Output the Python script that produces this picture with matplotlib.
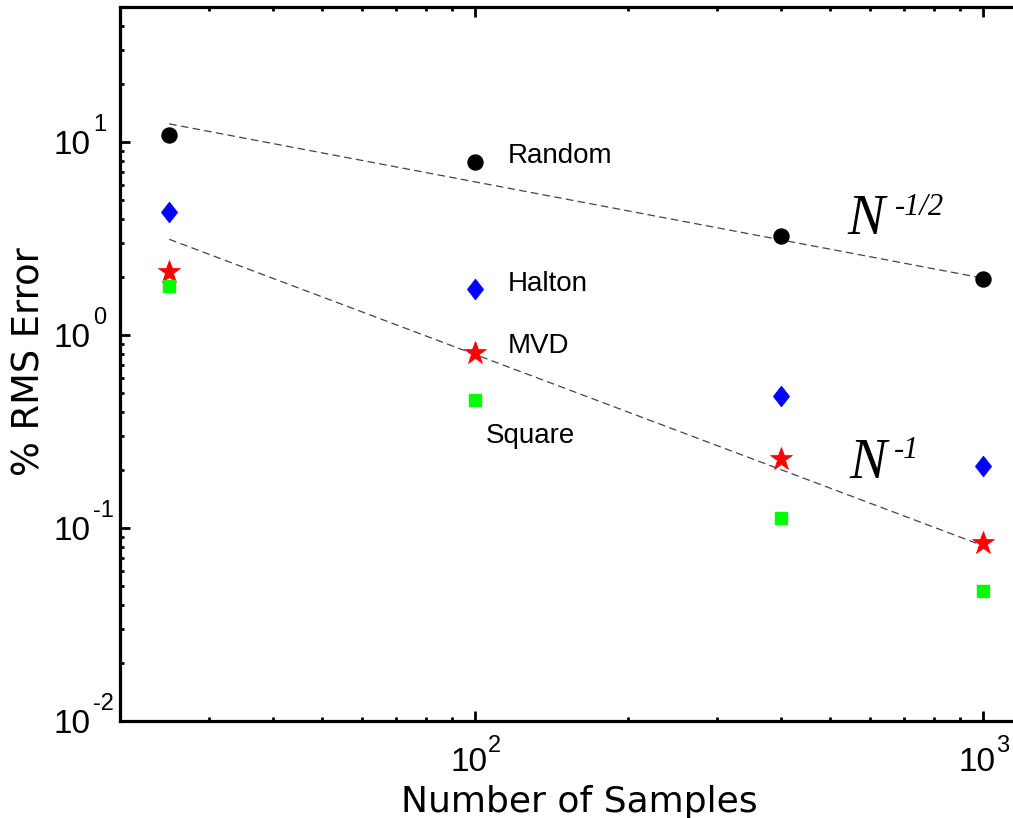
import numpy as np
import matplotlib
matplotlib.use("Agg")
import matplotlib.pyplot as plt
from matplotlib.path import Path
from matplotlib.ticker import LogLocator, NullFormatter
from matplotlib.transforms import blended_transform_factory

plt.rcParams['font.family'] = ['Liberation Sans', 'DejaVu Sans']

# ---- data ----
samples = [25, 100, 400, 1000]
random_err = [10.9, 7.9, 3.24, 1.94]
halton_err = [4.35, 1.73, 0.485, 0.21]
mvd_err = [2.11, 0.807, 0.2285, 0.0837]
square_err = [1.79, 0.462, 0.1128, 0.0472]

fit_n = [25, 1000]
fit_half = [12.4, 1.97]
fit_inv = [3.13, 0.081]

series_labels = ["Random", "Halton", "MVD", "Square"]
label_x = [116, 116, 116, 105]
label_y = [7.79, 1.69, 0.807, 0.275]

x_major = [100, 1000]
y_major = [0.01, 0.1, 1, 10]

# ---- figure ----
W, H = 1013, 818
fig = plt.figure(figsize=(W / 100, H / 100), dpi=100)
ax = fig.add_axes([120 / W, (H - 721) / H, (1023 - 120) / W, (721 - 7) / H])
ax.set_xscale('log')
ax.set_yscale('log')
ax.set_xlim(20, 1200)
ax.set_ylim(0.01, 50)

diamond = Path([(0, 1), (0.78, 0), (0, -1), (-0.78, 0), (0, 1)],
               [Path.MOVETO, Path.LINETO, Path.LINETO, Path.LINETO, Path.CLOSEPOLY])

ax.plot(fit_n, fit_half, ls=(0, (6, 3.5)), color='#444444', lw=0.9, zorder=1)
ax.plot(fit_n, fit_inv, ls=(0, (6, 3.5)), color='#444444', lw=0.9, zorder=1)

ax.plot(samples, random_err, ls='none', marker='o', ms=10.8, color='black',
        mec='black', zorder=3)
ax.plot(samples, halton_err, ls='none', marker=diamond, ms=15, color='#0000ff',
        mec='#0000ff', mew=0.5, zorder=3)
ax.plot(samples, mvd_err, ls='none', marker='*', ms=17, color='#ff0000',
        mec='#ff0000', mew=0.5, zorder=3)
ax.plot(samples, square_err, ls='none', marker='s', ms=9, color='#00ff00',
        mec='#00ff00', zorder=3)

for lab, lx, ly in zip(series_labels, label_x, label_y):
    ax.text(lx, ly, lab, fontsize=20, ha='left', va='baseline', color='black')

# power-law annotations
serif = ['Liberation Serif', 'DejaVu Serif']
ax.text(542, 3.32, 'N', fontsize=40, family=serif, style='italic',
        ha='left', va='baseline')
ax.annotate('-1/2', xy=(542, 3.32), xycoords='data', xytext=(47, 19),
            textcoords='offset pixels', fontsize=22, family=serif,
            style='italic', ha='left', va='baseline')
ax.text(547, 0.182, 'N', fontsize=40, family=serif, style='italic',
        ha='left', va='baseline')
ax.annotate('-1', xy=(547, 0.182), xycoords='data', xytext=(44, 20),
            textcoords='offset pixels', fontsize=22, family=serif,
            style='italic', ha='left', va='baseline')

# ---- axes styling ----
for s in ['left', 'bottom', 'top']:
    ax.spines[s].set_linewidth(2.3)
ax.spines['right'].set_visible(False)
ax.xaxis.set_major_locator(LogLocator(base=10, numticks=10))
ax.xaxis.set_minor_locator(LogLocator(base=10, subs=range(2, 10), numticks=20))
ax.yaxis.set_major_locator(LogLocator(base=10, numticks=10))
ax.yaxis.set_minor_locator(LogLocator(base=10, subs=range(2, 10), numticks=20))
ax.xaxis.set_major_formatter(NullFormatter())
ax.yaxis.set_major_formatter(NullFormatter())
ax.xaxis.set_minor_formatter(NullFormatter())
ax.yaxis.set_minor_formatter(NullFormatter())
ax.tick_params(which='both', direction='in', top=True, right=False, width=2.0)
ax.tick_params(which='major', length=7)
ax.tick_params(which='minor', length=3.2)

# tick labels "10" with raised exponent
tx = blended_transform_factory(ax.transData, ax.transAxes)
for v in x_major:
    e = int(round(np.log10(v)))
    ax.annotate('10', xy=(v, 0), xycoords=tx, xytext=(13, -50),
                textcoords='offset pixels', ha='right', va='baseline',
                fontsize=24, annotation_clip=False)
    ax.annotate(str(e), xy=(v, 0), xycoords=tx, xytext=(13, -31),
                textcoords='offset pixels', ha='left', va='baseline',
                fontsize=17, annotation_clip=False)
ty = blended_transform_factory(ax.transAxes, ax.transData)
for v in y_major:
    e = int(round(np.log10(v)))
    ax.annotate('10', xy=(0, v), xycoords=ty, xytext=(-30, -12),
                textcoords='offset pixels', ha='right', va='baseline',
                fontsize=24, annotation_clip=False)
    ax.annotate(str(e), xy=(0, v), xycoords=ty, xytext=(-27, 10.5),
                textcoords='offset pixels', ha='left', va='baseline',
                fontsize=17, annotation_clip=False)

fig.text(579 / W, 1 - 812 / H, 'Number of Samples', fontsize=26,
         family=['DejaVu Sans'], ha='center', va='baseline')
fig.text(40 / W, 1 - 362 / H, '% RMS Error', fontsize=26.5,
         family=['DejaVu Sans'], rotation=90, rotation_mode='anchor',
         ha='center', va='baseline')

fig.savefig('out.png', dpi=100)
